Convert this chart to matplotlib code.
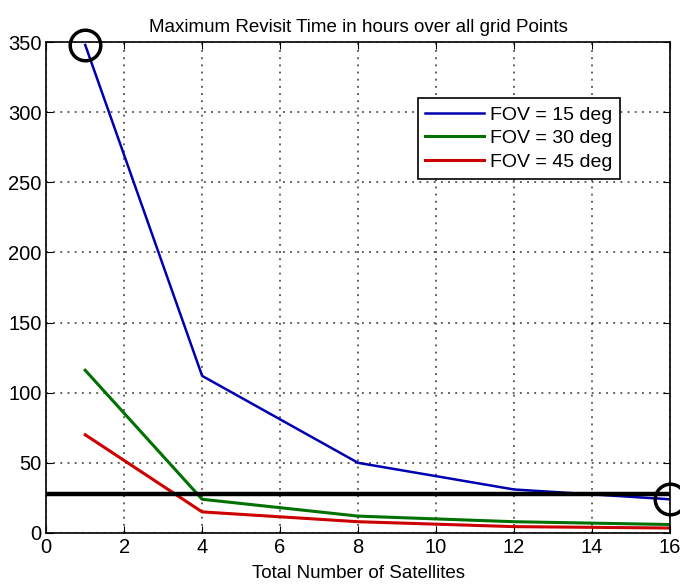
import matplotlib
matplotlib.use('Agg')
import matplotlib.pyplot as plt

plt.rcParams['font.family'] = ['Liberation Sans', 'DejaVu Sans']

# data
sats = [1, 4, 8, 12, 16]
fov15 = [348, 112, 50, 31, 24]
fov30 = [116, 24, 12, 8, 6]
fov45 = [70, 15, 8, 4.5, 3.5]
threshold = 28
marked_x = [1, 16]
marked_y = [348, 24]

fig = plt.figure(figsize=(6.8, 5.85), dpi=100)
ax = fig.add_axes([0.068, 0.089, 0.917, 0.839])

ax.plot(sats, fov15, color='#0000b0', lw=1.8, label='FOV = 15 deg')
ax.plot(sats, fov30, color='#007000', lw=2.2, label='FOV = 30 deg')
ax.plot(sats, fov45, color='#cc0000', lw=2.2, label='FOV = 45 deg')
ax.axhline(threshold, color='black', lw=3.2)
ax.plot(marked_x, marked_y, 'o', ms=22, mfc='none', mec='black', mew=2.5, clip_on=False)

ax.set_xlim(0, 16)
ax.set_ylim(0, 350)
ax.set_xticks(range(0, 17, 2))
ax.set_yticks(range(0, 351, 50))
ax.grid(True, linestyle=(0, (1.2, 3.5)), color='#333333', lw=1.1)
ax.tick_params(direction='in', top=True, right=True, labelsize=14.5, length=5)
for s in ax.spines.values():
    s.set_linewidth(1.2)

ax.set_title('Maximum Revisit Time in hours over all grid Points', fontsize=13.5, pad=7)
ax.set_xlabel('Total Number of Satellites', fontsize=13.5, labelpad=6)

leg = ax.legend(loc='upper left', bbox_to_anchor=(0.58, 0.905), fontsize=14,
                fancybox=False, edgecolor='black', framealpha=1,
                handlelength=3.0, borderpad=0.4, labelspacing=0.3, handletextpad=0.3)
leg.get_frame().set_linewidth(1.2)

plt.savefig('out.png', dpi=100)
